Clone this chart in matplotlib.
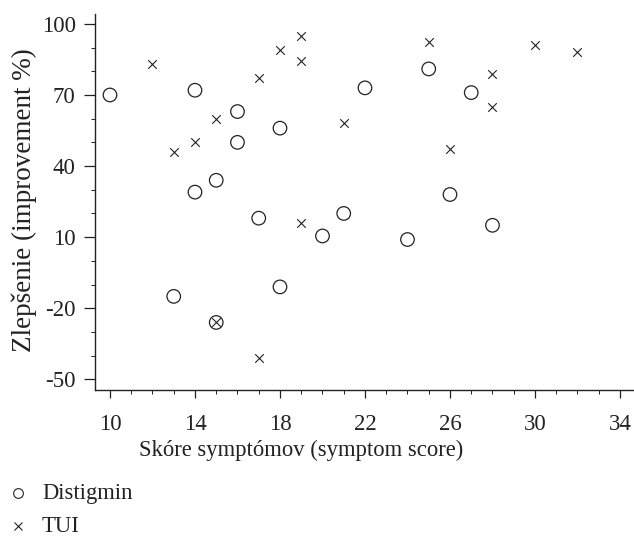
"""
Scatter of improvement vs. symptom score for Distigmin and TUI groups.

Output:
    out.png
"""

import matplotlib.pyplot as plt
from matplotlib.lines import Line2D
from matplotlib.ticker import MultipleLocator


# ---------------------------------------------------------------------
# Data
# ---------------------------------------------------------------------

DISTIGMIN_SCORE = [10, 14, 16, 16, 18, 15, 14, 17, 13, 15, 18, 20, 21, 24, 26, 28, 22, 25, 27]
DISTIGMIN_IMPROVEMENT = [70, 72, 63, 50, 56, 34, 29, 18, -15, -26, -11, 10.5, 20, 9, 28, 15, 73, 81, 71]

TUI_SCORE = [12, 13, 14, 15, 17, 18, 19, 19, 15, 19, 17, 21, 25, 26, 28, 28, 30, 32]
TUI_IMPROVEMENT = [83, 46, 50, 60, 77, 89, 95, 84.5, -26, 16, -41, 58, 92.5, 47, 79, 65, 91, 88]

X_TICKS = [10, 14, 18, 22, 26, 30, 34]
Y_TICKS = [100, 70, 40, 10, -20, -50]

X_LABEL = "Skóre symptómov (symptom score)"
Y_LABEL = "Zlepšenie (improvement %)"

FONT = "Liberation Serif"
INK = "#222222"


def make_plot():
    plt.rcParams["font.family"] = [FONT, "DejaVu Serif"]
    plt.rcParams["axes.unicode_minus"] = False

    fig = plt.figure(figsize=(6.34, 5.36), dpi=100)
    ax = fig.add_axes([0.150, 0.272, 0.848, 0.702])

    ax.scatter(DISTIGMIN_SCORE, DISTIGMIN_IMPROVEMENT, s=95, marker="o",
               facecolors="none", edgecolors=INK, linewidths=0.9, zorder=3)
    ax.scatter(TUI_SCORE, TUI_IMPROVEMENT, s=38, marker="x",
               color=INK, linewidths=0.8, zorder=3)

    ax.set_xlim(9.3, 34.6)
    ax.set_ylim(-54.6, 104.2)

    ax.set_xticks(X_TICKS)
    ax.set_yticks(Y_TICKS)
    ax.xaxis.set_minor_locator(MultipleLocator(1))
    ax.yaxis.set_minor_locator(MultipleLocator(10))

    ax.tick_params(axis="both", which="major", labelsize=16.5, colors=INK,
                   width=0.9)
    ax.tick_params(axis="x", which="major", length=6, pad=11)
    ax.tick_params(axis="y", which="major", length=8, pad=6)
    ax.tick_params(axis="both", which="minor", length=3, width=0.7,
                   colors=INK)

    for side in ("top", "right"):
        ax.spines[side].set_visible(False)
    for side in ("left", "bottom"):
        ax.spines[side].set_color(INK)
        ax.spines[side].set_linewidth(1.0)

    ax.set_xlabel(X_LABEL, fontsize=16.3, color=INK)
    ax.set_ylabel(Y_LABEL, fontsize=19.5, color=INK, va="center")
    ax.xaxis.set_label_coords(0.383, -0.131)
    ax.yaxis.set_label_coords(-0.132, 0.505)

    # legend below the plot, drawn by hand in figure coordinates
    fig.add_artist(Line2D([18 / 634], [1 - 493 / 536], marker="o",
                          markersize=7, markerfacecolor="none",
                          markeredgecolor=INK, markeredgewidth=0.8,
                          transform=fig.transFigure))
    fig.add_artist(Line2D([18 / 634], [1 - 526 / 536], marker="x",
                          markersize=5.5, color=INK, markeredgewidth=0.8,
                          transform=fig.transFigure))
    fig.text(42 / 634, 1 - 493 / 536, "Distigmin", fontsize=16.3, color=INK,
             va="center", ha="left")
    fig.text(42 / 634, 1 - 526 / 536, "TUI", fontsize=16.3, color=INK,
             va="center", ha="left")

    fig.savefig("out.png", dpi=100)
    plt.close(fig)


if __name__ == "__main__":
    make_plot()
